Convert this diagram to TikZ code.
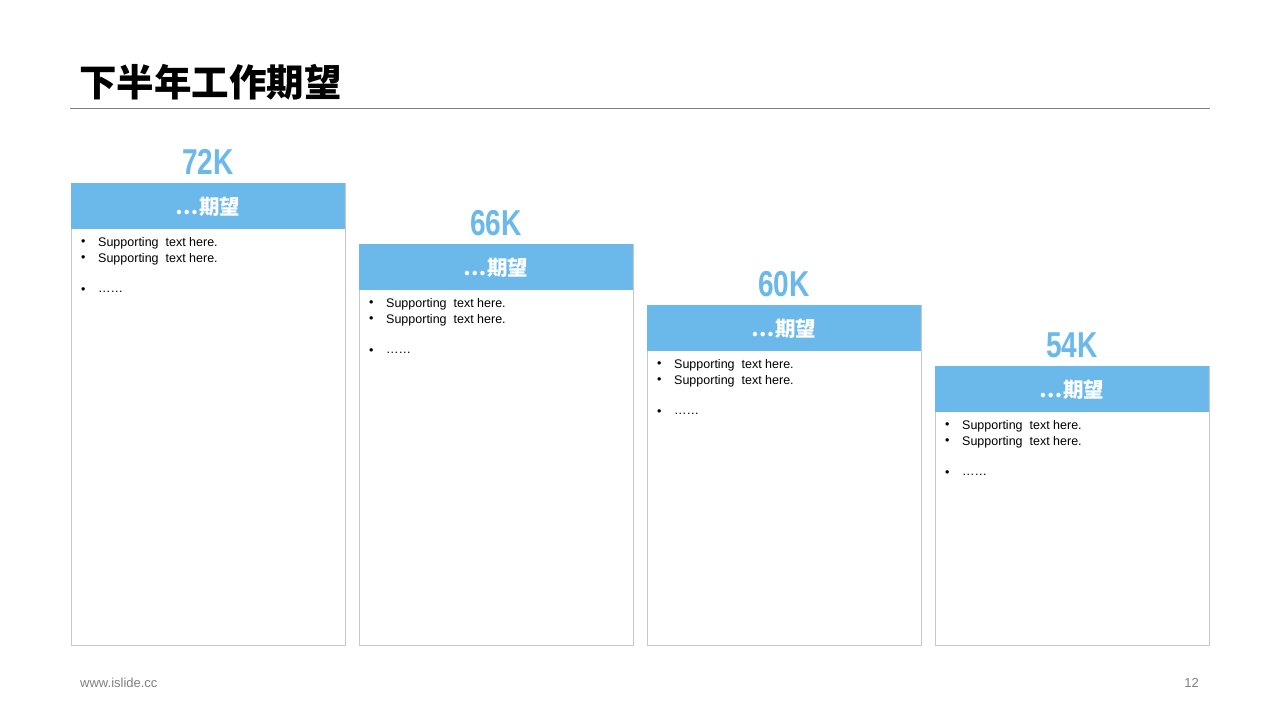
\documentclass[tikz,border=0pt]{standalone}
\usepackage{fontspec}
\setmainfont{Liberation Sans}
\newfontfamily\cjk{Noto Sans CJK SC}
\newfontfamily\narrowb[FakeStretch=0.78]{Liberation Sans Bold}
\definecolor{blu}{RGB}{107,185,235}
\definecolor{bord}{RGB}{200,200,200}
\definecolor{foot}{RGB}{127,127,127}
\begin{document}
\begin{tikzpicture}[x=1pt,y=-1pt,
  col/.style={draw=bord,line width=0.8pt,fill=white},
  head/.style={fill=blu},
  num/.style={text=blu,font=\narrowb\fontsize{36}{36}\selectfont},
  htxt/.style={text=white,font=\cjk\bfseries\fontsize{20.5}{20.5}\selectfont},
  btxt/.style={anchor=west,font=\fontsize{12.5}{13}\selectfont,inner sep=0pt}]
\useasboundingbox (0,0) rectangle (1280,720);
\node[anchor=west,inner sep=0pt,font=\cjk\bfseries\fontsize{37.5}{37.5}\selectfont] (title) at (79,82) {下半年工作期望};
\draw[foot,line width=0.8pt] (70,108) -- (1210,108);
\foreach \i/\x/\t/\n in {1/71/183/72K,2/359/244/66K,3/647/305/60K,4/935/366/54K}{
  \draw[col] (\x,\t) rectangle (\x+274,645);
  \fill[head] (\x,\t) rectangle (\x+274,\t+46);
  \node[num] (n\i) at (\x+137,\t-21) {\n};
  \node[htxt] (h\i) at (\x+137,\t+24) {…期望};
  \node[btxt] (a\i) at (\x+10,\t+60) {•};
  \node[btxt] (b\i) at (\x+10,\t+76) {•};
  \node[btxt] (c\i) at (\x+10,\t+108) {•};
  \node[btxt] (as\i) at (\x+27,\t+60) {Supporting\ \ text here.};
  \node[btxt] (bs\i) at (\x+27,\t+76) {Supporting\ \ text here.};
  \node[btxt] (cs\i) at (\x+27,\t+109) {……};
}
\node[anchor=west,inner sep=0pt,text=foot,font=\fontsize{13}{13}\selectfont] (url) at (80,683) {www.islide.cc};
\node[anchor=east,inner sep=0pt,text=foot,font=\fontsize{13}{13}\selectfont] (pg) at (1199,683) {12};
\end{tikzpicture}
\end{document}
